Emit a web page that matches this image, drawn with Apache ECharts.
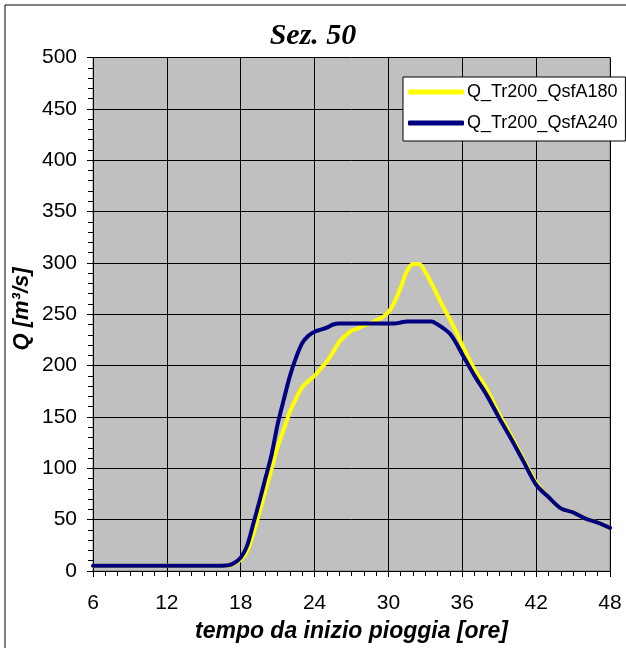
<!DOCTYPE html>
<html>
<head>
<meta charset="utf-8">
<script src="https://cdn.jsdelivr.net/npm/echarts@6/dist/echarts.min.js"></script>
<style>
html,body{margin:0;padding:0;background:#fff;}
#c{width:626px;height:648px;}
</style>
</head>
<body>
<div id="c"></div>
<script>
const hours = [6,7,8,9,10,11,12,13,14,15,16,17,17.5,18,18.5,19,19.5,20,20.5,21,21.5,22,22.5,23,23.5,24,24.5,25,25.5,26,26.5,27,27.5,28,28.5,29,29.5,30,30.5,31,31.5,32,32.5,33,33.5,34,34.5,35,35.5,36,37,38,39,40,41,42,43,44,45,46,47,48];
const q180 = [5,5,5,5,5,5,5,5,5,5,5,5,7,11,19,35,56,78,99,121,138,155,168,179,185,190,197,204,213,223,229,234,236,239,241,244,247,252,262,276,292,299,299,291,280,268,256,245,233,220,196,177,153,131,108,86,72,61,57,51,47,42];
const q240 = [5,5,5,5,5,5,5,5,5,5,5,5.5,8,13,24,45,67,90,113,143,167,190,208,222,229,233,235,237,240,241,241,241,241,241,241,241,241,241,241,242,243,243,243,243,243,240,236,231,222,211,190,171,149,128,106,84,72,61,57,51,47,42];
const seriesNames = ['Q_Tr200_QsfA180','Q_Tr200_QsfA240'];
const seriesColors = ['#FFFF00','#000080'];
const titleText = 'Sez. 50';
const xName = 'tempo da inizio pioggia [ore]';
const yName = 'Q [m³/s]';

const pairs = (ys) => hours.map((h,i)=>[h, ys[i]]);
const chart = echarts.init(document.getElementById('c'), null, {renderer:'canvas'});
const font = 'Liberation Sans, Arial, sans-serif';
chart.setOption({
  animation:false,
  backgroundColor:'#fff',
  title:{text:titleText,left:'center',top:16,
    textStyle:{fontFamily:'Liberation Serif, Times New Roman, serif',fontStyle:'italic',fontWeight:'bold',fontSize:30,color:'#000'}},
  legend:{
    orient:'vertical',left:403,top:77,
    padding:[6,8,9,5],itemGap:13,itemWidth:56,itemHeight:5,icon:'roundRect',
    backgroundColor:'#fff',borderColor:'#000',borderWidth:1,borderRadius:0,
    textStyle:{fontFamily:font,fontSize:18,color:'#000',padding:[0,0,0,-2]},
    data:seriesNames
  },
  grid:{left:93,top:57.5,right:16,bottom:76,show:true,backgroundColor:'#C0C0C0',borderColor:'#808080',borderWidth:1,containLabel:false},
  xAxis:{type:'value',min:6,max:48,interval:6,
    name:xName,nameLocation:'middle',nameGap:49,
    nameTextStyle:{fontFamily:font,fontStyle:'italic',fontWeight:'bold',fontSize:23,color:'#000'},
    axisLine:{show:true,onZero:false,lineStyle:{color:'#000',width:1}},
    axisTick:{show:true,length:6,lineStyle:{color:'#000'}},
    minorTick:{show:true,splitNumber:6,length:5,lineStyle:{color:'#000'}},
    splitLine:{show:true,lineStyle:{color:'#000',width:1}},
    axisLabel:{fontFamily:font,fontSize:21,color:'#000',margin:22}
  },
  yAxis:{type:'value',min:0,max:500,interval:50,
    axisLine:{show:true,lineStyle:{color:'#000',width:1}},
    axisTick:{show:true,length:6,lineStyle:{color:'#000'}},
    minorTick:{show:true,splitNumber:5,length:5,lineStyle:{color:'#000'}},
    splitLine:{show:true,lineStyle:{color:'#000',width:1}},
    axisLabel:{fontFamily:font,fontSize:21,color:'#000',margin:16}
  },
  graphic:[
    {type:'rect',shape:{x:5,y:5,width:660,height:680},style:{fill:'none',stroke:'#000',lineWidth:1},z:-10,silent:true},
    {type:'text',x:22,y:309,rotation:Math.PI/2,
      style:{text:yName,fontFamily:font,fontStyle:'italic',fontWeight:'bold',fontSize:22,fill:'#000',align:'center',verticalAlign:'middle'}}
  ],
  series:[
    {name:seriesNames[0],type:'line',data:pairs(q180),showSymbol:false,smooth:0.3,
      lineStyle:{color:seriesColors[0],width:4,cap:'round',join:'round'},itemStyle:{color:seriesColors[0]},z:2},
    {name:seriesNames[1],type:'line',data:pairs(q240),showSymbol:false,smooth:0.3,
      lineStyle:{color:seriesColors[1],width:4,cap:'round',join:'round'},itemStyle:{color:seriesColors[1]},z:3}
  ]
});
</script>
</body>
</html>
